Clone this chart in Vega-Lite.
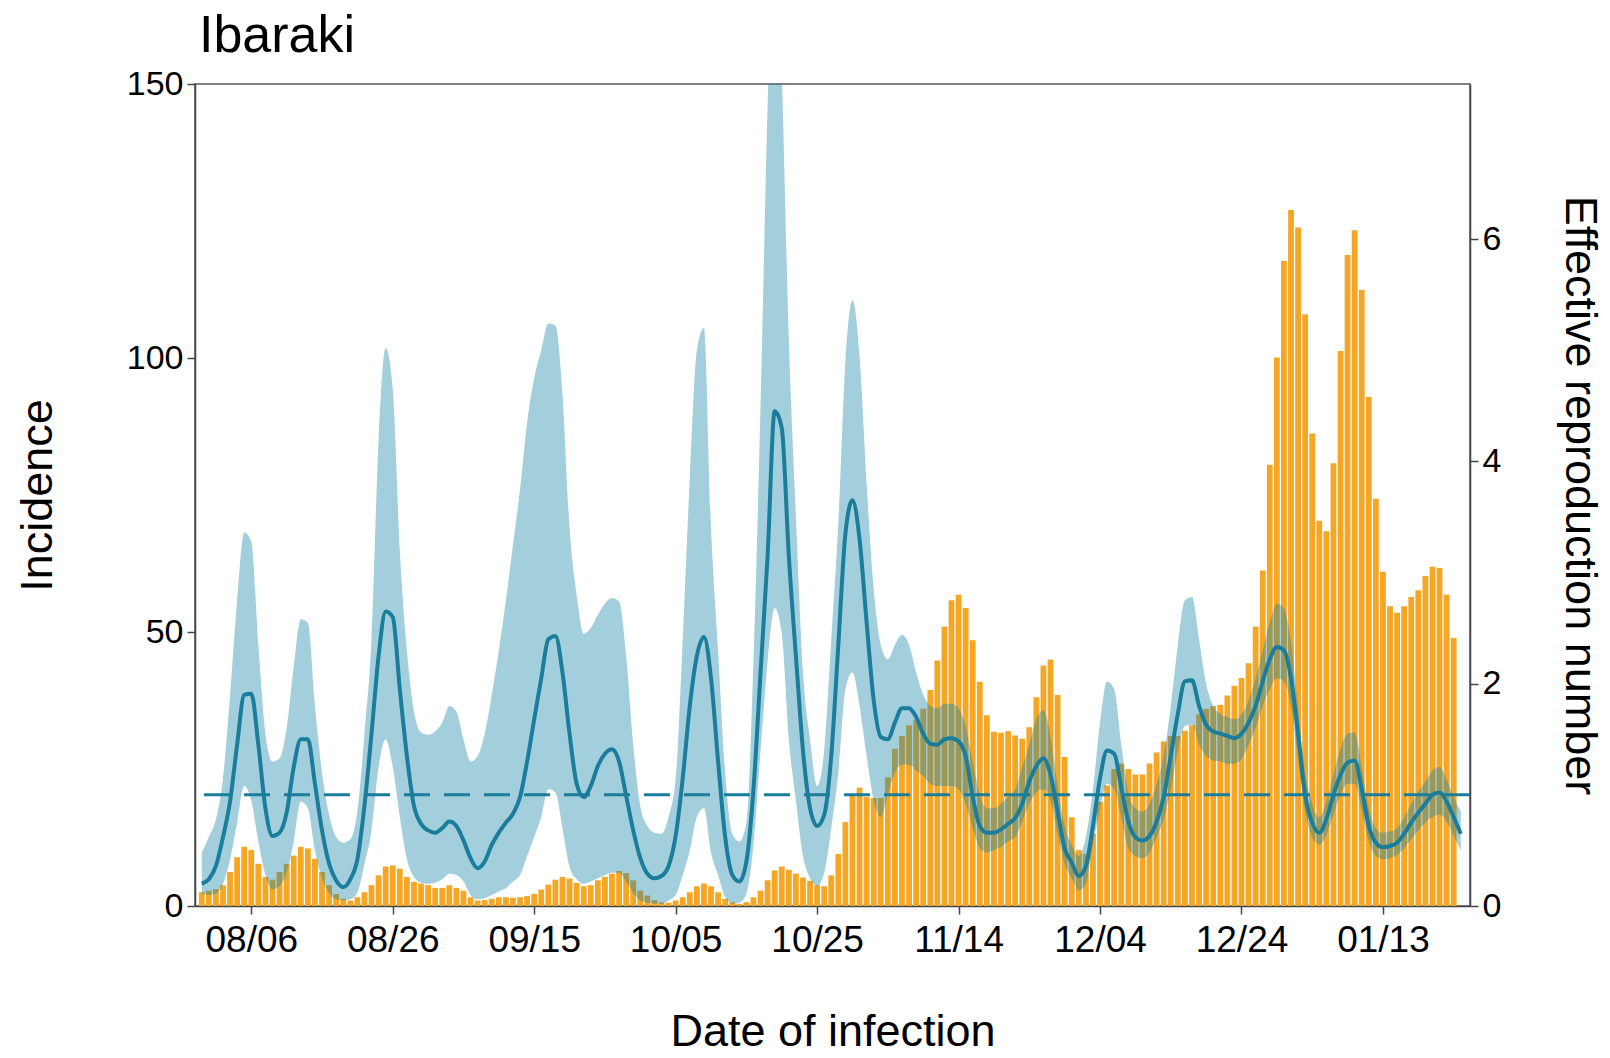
{
  "$schema": "https://vega.github.io/schema/vega-lite/v6.json",
  "width": 1275,
  "height": 822,
  "autosize": {"type": "none"},
  "padding": {"left": 195, "top": 84, "right": 140, "bottom": 152},
  "background": "white",
  "title": {"text": "Ibaraki", "anchor": "start", "frame": "group", "fontSize": 52, "fontWeight": "normal", "font": "Liberation Sans", "color": "black", "offset": 4, "dx": 4},
  "config": {
    "font": "Liberation Sans",
    "view": {"stroke": "#555555", "strokeWidth": 1.5},
    "axis": {"labelColor": "black", "titleColor": "black", "labelFont": "Liberation Sans", "titleFont": "Liberation Sans", "titleFontWeight": "normal", "domainColor": "#444444", "domainWidth": 1.5, "tickColor": "#444444", "tickWidth": 1.5, "tickSize": 8, "grid": false}
  },
  "datasets": {
    "series": [
    {"date": "2020-07-30", "inc": 2.5, "rt": 0.20, "lo": 0.11, "hi": 0.48},
    {"date": "2020-07-31", "inc": 2.8, "rt": 0.24, "lo": 0.10, "hi": 0.62},
    {"date": "2020-08-01", "inc": 3.1, "rt": 0.36, "lo": 0.11, "hi": 0.78},
    {"date": "2020-08-02", "inc": 3.8, "rt": 0.62, "lo": 0.20, "hi": 1.15},
    {"date": "2020-08-03", "inc": 6.2, "rt": 0.94, "lo": 0.42, "hi": 1.90},
    {"date": "2020-08-04", "inc": 8.9, "rt": 1.45, "lo": 0.75, "hi": 2.75},
    {"date": "2020-08-05", "inc": 10.8, "rt": 1.90, "lo": 1.08, "hi": 3.36},
    {"date": "2020-08-06", "inc": 10.2, "rt": 1.91, "lo": 0.95, "hi": 3.28},
    {"date": "2020-08-07", "inc": 7.7, "rt": 1.45, "lo": 0.58, "hi": 2.35},
    {"date": "2020-08-08", "inc": 5.3, "rt": 0.88, "lo": 0.28, "hi": 1.55},
    {"date": "2020-08-09", "inc": 4.8, "rt": 0.63, "lo": 0.15, "hi": 1.30},
    {"date": "2020-08-10", "inc": 6.2, "rt": 0.66, "lo": 0.18, "hi": 1.33},
    {"date": "2020-08-11", "inc": 7.7, "rt": 0.84, "lo": 0.30, "hi": 1.60},
    {"date": "2020-08-12", "inc": 9.2, "rt": 1.25, "lo": 0.58, "hi": 2.15},
    {"date": "2020-08-13", "inc": 10.8, "rt": 1.50, "lo": 0.94, "hi": 2.58},
    {"date": "2020-08-14", "inc": 10.5, "rt": 1.50, "lo": 0.88, "hi": 2.55},
    {"date": "2020-08-15", "inc": 8.6, "rt": 1.10, "lo": 0.50, "hi": 1.80},
    {"date": "2020-08-16", "inc": 6.2, "rt": 0.68, "lo": 0.25, "hi": 1.20},
    {"date": "2020-08-17", "inc": 3.8, "rt": 0.38, "lo": 0.12, "hi": 0.82},
    {"date": "2020-08-18", "inc": 2.2, "rt": 0.23, "lo": 0.06, "hi": 0.62},
    {"date": "2020-08-19", "inc": 1.3, "rt": 0.17, "lo": 0.05, "hi": 0.57},
    {"date": "2020-08-20", "inc": 1.0, "rt": 0.24, "lo": 0.06, "hi": 0.60},
    {"date": "2020-08-21", "inc": 1.6, "rt": 0.42, "lo": 0.12, "hi": 0.85},
    {"date": "2020-08-22", "inc": 2.5, "rt": 0.90, "lo": 0.38, "hi": 1.55},
    {"date": "2020-08-23", "inc": 3.8, "rt": 1.55, "lo": 0.68, "hi": 2.40},
    {"date": "2020-08-24", "inc": 5.6, "rt": 2.25, "lo": 1.25, "hi": 4.20},
    {"date": "2020-08-25", "inc": 7.2, "rt": 2.65, "lo": 1.50, "hi": 5.02},
    {"date": "2020-08-26", "inc": 7.4, "rt": 2.60, "lo": 1.25, "hi": 4.65},
    {"date": "2020-08-27", "inc": 6.8, "rt": 1.95, "lo": 0.80, "hi": 3.20},
    {"date": "2020-08-28", "inc": 5.3, "rt": 1.35, "lo": 0.42, "hi": 2.30},
    {"date": "2020-08-29", "inc": 4.4, "rt": 0.90, "lo": 0.26, "hi": 1.75},
    {"date": "2020-08-30", "inc": 4.1, "rt": 0.74, "lo": 0.21, "hi": 1.56},
    {"date": "2020-08-31", "inc": 3.8, "rt": 0.68, "lo": 0.20, "hi": 1.54},
    {"date": "2020-09-01", "inc": 3.3, "rt": 0.66, "lo": 0.21, "hi": 1.57},
    {"date": "2020-09-02", "inc": 3.3, "rt": 0.70, "lo": 0.24, "hi": 1.65},
    {"date": "2020-09-03", "inc": 3.8, "rt": 0.76, "lo": 0.29, "hi": 1.80},
    {"date": "2020-09-04", "inc": 3.3, "rt": 0.72, "lo": 0.28, "hi": 1.75},
    {"date": "2020-09-05", "inc": 2.8, "rt": 0.59, "lo": 0.22, "hi": 1.50},
    {"date": "2020-09-06", "inc": 1.6, "rt": 0.43, "lo": 0.10, "hi": 1.30},
    {"date": "2020-09-07", "inc": 1.0, "rt": 0.34, "lo": 0.06, "hi": 1.35},
    {"date": "2020-09-08", "inc": 1.1, "rt": 0.40, "lo": 0.07, "hi": 1.55},
    {"date": "2020-09-09", "inc": 1.3, "rt": 0.55, "lo": 0.10, "hi": 1.90},
    {"date": "2020-09-10", "inc": 1.6, "rt": 0.66, "lo": 0.13, "hi": 2.30},
    {"date": "2020-09-11", "inc": 1.6, "rt": 0.75, "lo": 0.16, "hi": 2.75},
    {"date": "2020-09-12", "inc": 1.5, "rt": 0.83, "lo": 0.22, "hi": 3.25},
    {"date": "2020-09-13", "inc": 1.6, "rt": 0.98, "lo": 0.28, "hi": 3.75},
    {"date": "2020-09-14", "inc": 1.8, "rt": 1.30, "lo": 0.45, "hi": 4.35},
    {"date": "2020-09-15", "inc": 2.2, "rt": 1.68, "lo": 0.62, "hi": 4.75},
    {"date": "2020-09-16", "inc": 3.0, "rt": 2.05, "lo": 0.80, "hi": 5.00},
    {"date": "2020-09-17", "inc": 3.9, "rt": 2.40, "lo": 1.05, "hi": 5.24},
    {"date": "2020-09-18", "inc": 4.8, "rt": 2.43, "lo": 1.02, "hi": 5.22},
    {"date": "2020-09-19", "inc": 5.3, "rt": 2.10, "lo": 0.70, "hi": 4.60},
    {"date": "2020-09-20", "inc": 5.0, "rt": 1.55, "lo": 0.35, "hi": 3.40},
    {"date": "2020-09-21", "inc": 4.2, "rt": 1.10, "lo": 0.24, "hi": 2.80},
    {"date": "2020-09-22", "inc": 3.6, "rt": 0.98, "lo": 0.20, "hi": 2.45},
    {"date": "2020-09-23", "inc": 3.8, "rt": 1.08, "lo": 0.22, "hi": 2.50},
    {"date": "2020-09-24", "inc": 4.7, "rt": 1.26, "lo": 0.25, "hi": 2.62},
    {"date": "2020-09-25", "inc": 5.3, "rt": 1.37, "lo": 0.28, "hi": 2.72},
    {"date": "2020-09-26", "inc": 5.9, "rt": 1.41, "lo": 0.30, "hi": 2.77},
    {"date": "2020-09-27", "inc": 6.4, "rt": 1.30, "lo": 0.30, "hi": 2.74},
    {"date": "2020-09-28", "inc": 6.0, "rt": 0.99, "lo": 0.22, "hi": 2.25},
    {"date": "2020-09-29", "inc": 4.7, "rt": 0.68, "lo": 0.12, "hi": 1.45},
    {"date": "2020-09-30", "inc": 2.8, "rt": 0.43, "lo": 0.05, "hi": 0.90},
    {"date": "2020-10-01", "inc": 1.9, "rt": 0.29, "lo": 0.03, "hi": 0.72},
    {"date": "2020-10-02", "inc": 1.1, "rt": 0.25, "lo": 0.02, "hi": 0.66},
    {"date": "2020-10-03", "inc": 0.7, "rt": 0.27, "lo": 0.02, "hi": 0.65},
    {"date": "2020-10-04", "inc": 0.6, "rt": 0.36, "lo": 0.05, "hi": 0.80},
    {"date": "2020-10-05", "inc": 1.0, "rt": 0.63, "lo": 0.10, "hi": 1.15},
    {"date": "2020-10-06", "inc": 1.6, "rt": 1.15, "lo": 0.28, "hi": 2.40},
    {"date": "2020-10-07", "inc": 2.5, "rt": 1.80, "lo": 0.50, "hi": 3.85},
    {"date": "2020-10-08", "inc": 3.6, "rt": 2.25, "lo": 0.80, "hi": 5.00},
    {"date": "2020-10-09", "inc": 4.1, "rt": 2.42, "lo": 0.88, "hi": 5.20},
    {"date": "2020-10-10", "inc": 3.6, "rt": 2.05, "lo": 0.48, "hi": 3.40},
    {"date": "2020-10-11", "inc": 2.5, "rt": 1.30, "lo": 0.28, "hi": 2.30},
    {"date": "2020-10-12", "inc": 1.3, "rt": 0.62, "lo": 0.08, "hi": 1.20},
    {"date": "2020-10-13", "inc": 0.7, "rt": 0.28, "lo": 0.02, "hi": 0.65},
    {"date": "2020-10-14", "inc": 0.4, "rt": 0.22, "lo": 0.03, "hi": 0.58},
    {"date": "2020-10-15", "inc": 0.7, "rt": 0.40, "lo": 0.11, "hi": 0.75},
    {"date": "2020-10-16", "inc": 1.6, "rt": 1.05, "lo": 0.55, "hi": 2.20},
    {"date": "2020-10-17", "inc": 2.8, "rt": 2.10, "lo": 1.40, "hi": 4.50},
    {"date": "2020-10-18", "inc": 4.7, "rt": 3.15, "lo": 2.20, "hi": 7.20},
    {"date": "2020-10-19", "inc": 6.5, "rt": 4.45, "lo": 2.68, "hi": 9.00},
    {"date": "2020-10-20", "inc": 7.2, "rt": 4.30, "lo": 2.45, "hi": 7.50},
    {"date": "2020-10-21", "inc": 6.6, "rt": 3.15, "lo": 1.50, "hi": 5.10},
    {"date": "2020-10-22", "inc": 5.9, "rt": 2.25, "lo": 0.95, "hi": 3.50},
    {"date": "2020-10-23", "inc": 5.2, "rt": 1.40, "lo": 0.45, "hi": 2.10},
    {"date": "2020-10-24", "inc": 4.6, "rt": 0.88, "lo": 0.25, "hi": 1.50},
    {"date": "2020-10-25", "inc": 3.8, "rt": 0.72, "lo": 0.18, "hi": 1.08},
    {"date": "2020-10-26", "inc": 3.6, "rt": 0.82, "lo": 0.30, "hi": 1.40},
    {"date": "2020-10-27", "inc": 5.6, "rt": 1.35, "lo": 0.70, "hi": 2.40},
    {"date": "2020-10-28", "inc": 9.5, "rt": 2.35, "lo": 1.20, "hi": 3.45},
    {"date": "2020-10-29", "inc": 15.3, "rt": 3.35, "lo": 1.95, "hi": 4.90},
    {"date": "2020-10-30", "inc": 20.2, "rt": 3.65, "lo": 2.10, "hi": 5.45},
    {"date": "2020-10-31", "inc": 21.6, "rt": 3.30, "lo": 1.80, "hi": 4.95},
    {"date": "2020-11-01", "inc": 19.9, "rt": 2.55, "lo": 1.35, "hi": 3.80},
    {"date": "2020-11-02", "inc": 19.7, "rt": 1.85, "lo": 0.95, "hi": 2.85},
    {"date": "2020-11-03", "inc": 19.7, "rt": 1.52, "lo": 0.80, "hi": 2.35},
    {"date": "2020-11-04", "inc": 23.5, "rt": 1.50, "lo": 1.00, "hi": 2.22},
    {"date": "2020-11-05", "inc": 28.7, "rt": 1.65, "lo": 1.20, "hi": 2.35},
    {"date": "2020-11-06", "inc": 31, "rt": 1.78, "lo": 1.27, "hi": 2.44},
    {"date": "2020-11-07", "inc": 33, "rt": 1.78, "lo": 1.27, "hi": 2.35},
    {"date": "2020-11-08", "inc": 34, "rt": 1.70, "lo": 1.22, "hi": 2.10},
    {"date": "2020-11-09", "inc": 36, "rt": 1.55, "lo": 1.17, "hi": 1.90},
    {"date": "2020-11-10", "inc": 39.4, "rt": 1.46, "lo": 1.10, "hi": 1.80},
    {"date": "2020-11-11", "inc": 44.8, "rt": 1.45, "lo": 1.08, "hi": 1.78},
    {"date": "2020-11-12", "inc": 51, "rt": 1.50, "lo": 1.08, "hi": 1.82},
    {"date": "2020-11-13", "inc": 55.8, "rt": 1.51, "lo": 1.08, "hi": 1.82},
    {"date": "2020-11-14", "inc": 56.8, "rt": 1.48, "lo": 1.05, "hi": 1.78},
    {"date": "2020-11-15", "inc": 54.4, "rt": 1.35, "lo": 0.92, "hi": 1.62},
    {"date": "2020-11-16", "inc": 48.5, "rt": 0.98, "lo": 0.70, "hi": 1.30},
    {"date": "2020-11-17", "inc": 40.9, "rt": 0.72, "lo": 0.52, "hi": 1.00},
    {"date": "2020-11-18", "inc": 34.8, "rt": 0.66, "lo": 0.48, "hi": 0.88},
    {"date": "2020-11-19", "inc": 31.8, "rt": 0.66, "lo": 0.50, "hi": 0.88},
    {"date": "2020-11-20", "inc": 31.6, "rt": 0.69, "lo": 0.53, "hi": 0.92},
    {"date": "2020-11-21", "inc": 31.9, "rt": 0.74, "lo": 0.58, "hi": 0.98},
    {"date": "2020-11-22", "inc": 31.1, "rt": 0.79, "lo": 0.62, "hi": 1.05},
    {"date": "2020-11-23", "inc": 30.5, "rt": 0.92, "lo": 0.76, "hi": 1.25},
    {"date": "2020-11-24", "inc": 32.6, "rt": 1.12, "lo": 0.92, "hi": 1.45},
    {"date": "2020-11-25", "inc": 38.1, "rt": 1.26, "lo": 1.02, "hi": 1.68},
    {"date": "2020-11-26", "inc": 43.9, "rt": 1.33, "lo": 1.05, "hi": 1.76},
    {"date": "2020-11-27", "inc": 45, "rt": 1.18, "lo": 0.95, "hi": 1.52},
    {"date": "2020-11-28", "inc": 38.5, "rt": 0.85, "lo": 0.65, "hi": 1.08},
    {"date": "2020-11-29", "inc": 27.2, "rt": 0.52, "lo": 0.38, "hi": 0.72},
    {"date": "2020-11-30", "inc": 16.2, "rt": 0.39, "lo": 0.25, "hi": 0.55},
    {"date": "2020-12-01", "inc": 10.2, "rt": 0.27, "lo": 0.14, "hi": 0.45},
    {"date": "2020-12-02", "inc": 9.5, "rt": 0.36, "lo": 0.20, "hi": 0.62},
    {"date": "2020-12-03", "inc": 13.2, "rt": 0.72, "lo": 0.55, "hi": 1.05},
    {"date": "2020-12-04", "inc": 19, "rt": 1.15, "lo": 0.88, "hi": 1.65},
    {"date": "2020-12-05", "inc": 22, "rt": 1.40, "lo": 1.10, "hi": 2.02},
    {"date": "2020-12-06", "inc": 25, "rt": 1.37, "lo": 1.05, "hi": 1.95},
    {"date": "2020-12-07", "inc": 26, "rt": 1.07, "lo": 0.80, "hi": 1.45},
    {"date": "2020-12-08", "inc": 25, "rt": 0.76, "lo": 0.52, "hi": 1.02},
    {"date": "2020-12-09", "inc": 24, "rt": 0.62, "lo": 0.45, "hi": 0.88},
    {"date": "2020-12-10", "inc": 24, "rt": 0.59, "lo": 0.43, "hi": 0.85},
    {"date": "2020-12-11", "inc": 26, "rt": 0.63, "lo": 0.48, "hi": 0.92},
    {"date": "2020-12-12", "inc": 28, "rt": 0.76, "lo": 0.62, "hi": 1.10},
    {"date": "2020-12-13", "inc": 30, "rt": 0.98, "lo": 0.78, "hi": 1.35},
    {"date": "2020-12-14", "inc": 31, "rt": 1.35, "lo": 1.05, "hi": 1.80},
    {"date": "2020-12-15", "inc": 31, "rt": 1.73, "lo": 1.40, "hi": 2.35},
    {"date": "2020-12-16", "inc": 32, "rt": 2.02, "lo": 1.62, "hi": 2.75},
    {"date": "2020-12-17", "inc": 33, "rt": 2.03, "lo": 1.63, "hi": 2.78},
    {"date": "2020-12-18", "inc": 35, "rt": 1.80, "lo": 1.45, "hi": 2.40},
    {"date": "2020-12-19", "inc": 36, "rt": 1.63, "lo": 1.35, "hi": 2.00},
    {"date": "2020-12-20", "inc": 36.5, "rt": 1.57, "lo": 1.31, "hi": 1.80},
    {"date": "2020-12-21", "inc": 36.7, "rt": 1.55, "lo": 1.30, "hi": 1.73},
    {"date": "2020-12-22", "inc": 38.4, "rt": 1.53, "lo": 1.28, "hi": 1.70},
    {"date": "2020-12-23", "inc": 40.2, "rt": 1.51, "lo": 1.28, "hi": 1.68},
    {"date": "2020-12-24", "inc": 41.6, "rt": 1.55, "lo": 1.32, "hi": 1.72},
    {"date": "2020-12-25", "inc": 44.3, "rt": 1.65, "lo": 1.45, "hi": 1.85},
    {"date": "2020-12-26", "inc": 51, "rt": 1.80, "lo": 1.60, "hi": 2.05},
    {"date": "2020-12-27", "inc": 61.2, "rt": 2.02, "lo": 1.80, "hi": 2.30},
    {"date": "2020-12-28", "inc": 80.5, "rt": 2.22, "lo": 1.95, "hi": 2.55},
    {"date": "2020-12-29", "inc": 100.1, "rt": 2.33, "lo": 2.05, "hi": 2.72},
    {"date": "2020-12-30", "inc": 117.7, "rt": 2.30, "lo": 2.02, "hi": 2.68},
    {"date": "2020-12-31", "inc": 127, "rt": 2.05, "lo": 1.80, "hi": 2.38},
    {"date": "2021-01-01", "inc": 123.8, "rt": 1.55, "lo": 1.32, "hi": 1.78},
    {"date": "2021-01-02", "inc": 108, "rt": 1.00, "lo": 0.85, "hi": 1.20},
    {"date": "2021-01-03", "inc": 86.2, "rt": 0.75, "lo": 0.62, "hi": 0.92},
    {"date": "2021-01-04", "inc": 70.3, "rt": 0.66, "lo": 0.55, "hi": 0.80},
    {"date": "2021-01-05", "inc": 68.4, "rt": 0.78, "lo": 0.64, "hi": 0.94},
    {"date": "2021-01-06", "inc": 80.8, "rt": 1.00, "lo": 0.82, "hi": 1.18},
    {"date": "2021-01-07", "inc": 101.3, "rt": 1.18, "lo": 1.00, "hi": 1.42},
    {"date": "2021-01-08", "inc": 118.8, "rt": 1.29, "lo": 1.10, "hi": 1.55},
    {"date": "2021-01-09", "inc": 123.3, "rt": 1.31, "lo": 1.10, "hi": 1.56},
    {"date": "2021-01-10", "inc": 112.4, "rt": 1.05, "lo": 0.86, "hi": 1.25},
    {"date": "2021-01-11", "inc": 92.9, "rt": 0.72, "lo": 0.58, "hi": 0.88},
    {"date": "2021-01-12", "inc": 74.3, "rt": 0.57, "lo": 0.45, "hi": 0.70},
    {"date": "2021-01-13", "inc": 61, "rt": 0.53, "lo": 0.42, "hi": 0.66},
    {"date": "2021-01-14", "inc": 54.7, "rt": 0.54, "lo": 0.43, "hi": 0.67},
    {"date": "2021-01-15", "inc": 53.5, "rt": 0.57, "lo": 0.46, "hi": 0.70},
    {"date": "2021-01-16", "inc": 54.7, "rt": 0.65, "lo": 0.52, "hi": 0.80},
    {"date": "2021-01-17", "inc": 56.4, "rt": 0.75, "lo": 0.60, "hi": 0.92},
    {"date": "2021-01-18", "inc": 57.6, "rt": 0.84, "lo": 0.68, "hi": 1.03},
    {"date": "2021-01-19", "inc": 60.2, "rt": 0.92, "lo": 0.75, "hi": 1.12},
    {"date": "2021-01-20", "inc": 61.9, "rt": 1.00, "lo": 0.80, "hi": 1.22},
    {"date": "2021-01-21", "inc": 61.7, "rt": 1.02, "lo": 0.82, "hi": 1.25},
    {"date": "2021-01-22", "inc": 56.8, "rt": 0.94, "lo": 0.76, "hi": 1.14},
    {"date": "2021-01-23", "inc": 48.9, "rt": 0.80, "lo": 0.63, "hi": 0.98},
    {"date": "2021-01-24", "inc": null, "rt": 0.65, "lo": 0.50, "hi": 0.85}
    ],
    "threshold": [{"rt_ref": 1}]
  },
  "layer": [
    {
      "data": {"name": "series"},
      "mark": {"type": "bar", "color": "#F4A624", "width": 5.8, "clip": true},
      "encoding": {
        "x": {
          "field": "date", "type": "temporal",
          "scale": {"type": "utc", "domain": [{"year": 2020, "month": 7, "date": 29, "hours": 18, "utc": true}, {"year": 2021, "month": 1, "date": 24, "hours": 14, "minutes": 24, "utc": true}]},
          "axis": {
            "title": "Date of infection", "titleFontSize": 45, "titlePadding": 51,
            "format": "%m/%d", "labelFontSize": 37, "labelPadding": 8, "labelFlush": false, "labelOverlap": false,
            "values": [
              {"year": 2020, "month": 8, "date": 6, "utc": true},
              {"year": 2020, "month": 8, "date": 26, "utc": true},
              {"year": 2020, "month": 9, "date": 15, "utc": true},
              {"year": 2020, "month": 10, "date": 5, "utc": true},
              {"year": 2020, "month": 10, "date": 25, "utc": true},
              {"year": 2020, "month": 11, "date": 14, "utc": true},
              {"year": 2020, "month": 12, "date": 4, "utc": true},
              {"year": 2020, "month": 12, "date": 24, "utc": true},
              {"year": 2021, "month": 1, "date": 13, "utc": true}
            ]
          }
        },
        "y": {"field": "inc", "type": "quantitative", "scale": {"domain": [0, 150], "nice": false},
              "axis": {"orient": "left", "title": "Incidence", "titleFontSize": 45, "titlePadding": 66, "values": [0, 50, 100, 150], "format": "d", "labelFontSize": 34, "labelPadding": 4}}
      }
    },
    {
      "layer": [
        {
          "data": {"name": "series"},
          "mark": {"type": "area", "color": "#1a86a8", "opacity": 0.4, "interpolate": "monotone", "clip": true},
          "encoding": {
            "x": {"field": "date", "type": "temporal"},
            "y": {"field": "lo", "type": "quantitative", "scale": {"domain": [0, 7.395], "nice": false},
                  "axis": {"orient": "right", "title": "Effective reproduction number", "titleFontSize": 45, "titlePadding": 56, "values": [0, 2, 4, 6], "format": "d", "labelFontSize": 34, "labelPadding": 4}},
            "y2": {"field": "hi"}
          }
        },
        {
          "data": {"name": "series"},
          "mark": {"type": "line", "color": "#1a7d9b", "strokeWidth": 4, "interpolate": "monotone", "clip": true},
          "encoding": {
            "x": {"field": "date", "type": "temporal"},
            "y": {"field": "rt", "type": "quantitative"}
          }
        },
        {
          "data": {"name": "threshold"},
          "mark": {"type": "rule", "color": "#1a7d9b", "strokeWidth": 3, "strokeDash": [26, 14]},
          "encoding": {
            "y": {"field": "rt_ref", "type": "quantitative"}
          }
        }
      ]
    }
  ],
  "resolve": {"scale": {"y": "independent"}}
}
